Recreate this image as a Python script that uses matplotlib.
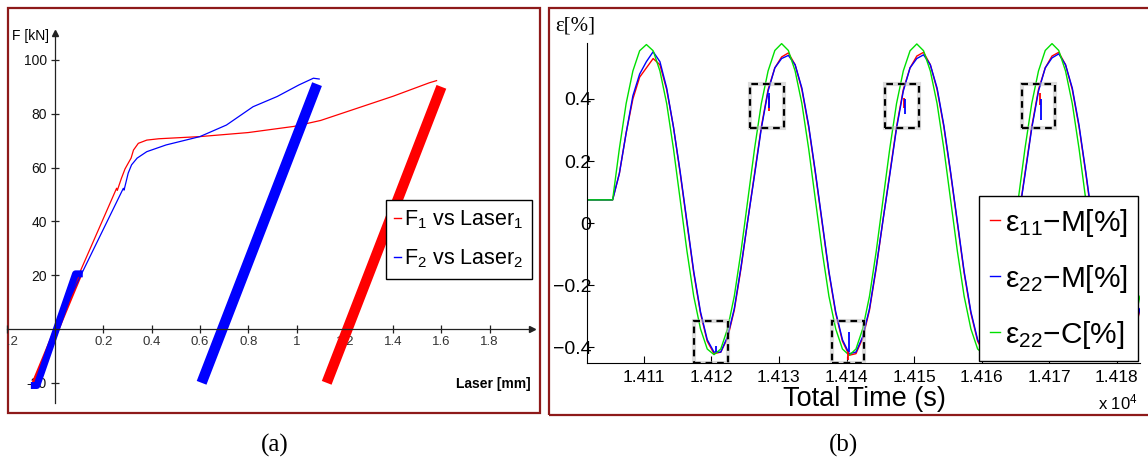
import numpy as np
import matplotlib
matplotlib.use("Agg")
import matplotlib.pyplot as plt
from matplotlib.patches import Rectangle
from matplotlib.lines import Line2D
from matplotlib.transforms import Bbox, TransformedBbox

plt.rcParams['font.family'] = ['Liberation Sans', 'DejaVu Sans']
plt.rcParams['mathtext.fontset'] = 'custom'
plt.rcParams['mathtext.rm'] = 'Liberation Sans'
plt.rcParams['mathtext.it'] = 'Liberation Sans'
plt.rcParams['mathtext.default'] = 'rm'

# ---- panel (a): force vs laser displacement ----
red_load_x = [0.0, 0.10, 0.255, 0.258, 0.275, 0.29, 0.303, 0.315, 0.325, 0.345, 0.38, 0.43,
              0.60, 0.80, 0.99, 1.10, 1.25, 1.40, 1.55, 1.58]
red_load_F = [0.0, 20.5, 52.3, 51.5, 56.0, 59.5, 61.6, 63.5, 66.5, 69.0, 70.2, 70.7,
              71.5, 73.0, 75.3, 77.5, 82.0, 86.5, 91.5, 92.3]
blue_load_x = [0.0, 0.11, 0.283, 0.286, 0.303, 0.317, 0.34, 0.38, 0.46, 0.60, 0.71, 0.82,
               0.92, 1.01, 1.07, 1.094]
blue_load_F = [0.0, 20.5, 52.3, 51.6, 57.9, 61.0, 63.5, 65.9, 68.4, 71.5, 75.8, 82.6,
               86.4, 90.7, 93.2, 92.9]
# cyclic bands (bottom -> top)
red_band_x = [1.125, 1.60]
red_band_F = [-20.0, 90.0]
blue_band_x = [0.607, 1.085]
blue_band_F = [-20.0, 91.0]
red_cyc_x = [-0.085, 0.10]
red_cyc_F = [-20.0, 20.0]
blue_cyc_x = [-0.10, -0.075, 0.085, 0.115]
blue_cyc_F = [-21.0, -21.0, 20.5, 20.5]

a_xticks = [-0.2, 0.2, 0.4, 0.6, 0.8, 1.0, 1.2, 1.4, 1.6, 1.8]
a_xlabels = ['-0.2', '0.2', '0.4', '0.6', '0.8', '1', '1.2', '1.4', '1.6', '1.8']
a_yticks = [-20, 20, 40, 60, 80, 100]
a_ylabels = ['-20', '20', '40', '60', '80', '100']

# ---- panel (b): strain vs time ----
t = np.arange(14101.4, 14184.0, 1.0)
eps11_M = [0.075, 0.075, 0.075, 0.075,
           0.075, 0.16, 0.29, 0.40, 0.47, 0.50, 0.53, 0.51, 0.43, 0.31, 0.16, 0.0, -0.16, -0.29, -0.38, -0.42, -0.415, -0.37, -0.28, -0.145,
           0.01, 0.16, 0.31, 0.43, 0.50, 0.535, 0.548, 0.51, 0.43, 0.31, 0.16, 0.0, -0.16, -0.29, -0.38, -0.425, -0.42, -0.37, -0.28, -0.145,
           0.01, 0.16, 0.31, 0.43, 0.50, 0.538, 0.55, 0.51, 0.43, 0.31, 0.16, 0.0, -0.16, -0.29, -0.38, -0.42, -0.415, -0.37, -0.28, -0.145,
           0.01, 0.16, 0.31, 0.43, 0.50, 0.538, 0.55, 0.51, 0.43, 0.31, 0.16, 0.0, -0.16, -0.29, -0.38, -0.42, -0.415, -0.37, -0.28]
eps22_M = [0.075, 0.075, 0.075, 0.075,
           0.075, 0.16, 0.29, 0.41, 0.48, 0.52, 0.552, 0.52, 0.435, 0.31, 0.165, 0.005, -0.155, -0.285, -0.375, -0.415, -0.415, -0.365, -0.275, -0.14,
           0.01, 0.155, 0.305, 0.425, 0.50, 0.53, 0.54, 0.51, 0.435, 0.315, 0.165, 0.005, -0.155, -0.285, -0.375, -0.42, -0.415, -0.365, -0.275, -0.14,
           0.01, 0.155, 0.305, 0.425, 0.50, 0.53, 0.542, 0.51, 0.435, 0.315, 0.165, 0.005, -0.155, -0.285, -0.375, -0.42, -0.415, -0.365, -0.275, -0.14,
           0.01, 0.155, 0.305, 0.425, 0.50, 0.532, 0.545, 0.51, 0.435, 0.315, 0.165, 0.005, -0.155, -0.285, -0.375, -0.42, -0.415, -0.365, -0.275]
eps22_C = [0.075, 0.075, 0.075, 0.075,
           0.075, 0.24, 0.385, 0.49, 0.555, 0.575, 0.555, 0.49, 0.385, 0.24, 0.075, -0.09, -0.235, -0.34, -0.405, -0.423, -0.405, -0.34, -0.235, -0.09,
           0.075, 0.24, 0.385, 0.49, 0.556, 0.578, 0.556, 0.49, 0.385, 0.24, 0.075, -0.09, -0.235, -0.34, -0.405, -0.425, -0.405, -0.34, -0.235, -0.09,
           0.075, 0.24, 0.385, 0.49, 0.555, 0.577, 0.555, 0.49, 0.385, 0.24, 0.075, -0.09, -0.235, -0.34, -0.405, -0.424, -0.405, -0.34, -0.235, -0.09,
           0.075, 0.24, 0.385, 0.49, 0.556, 0.578, 0.556, 0.49, 0.385, 0.24, 0.075, -0.09, -0.235, -0.34, -0.405, -0.425, -0.405, -0.34, -0.235]
# small jumps in the measured signals (inside the dashed boxes)
blue_jump_t = [14120.65, 14128.6, 14140.4, 14148.6, 14168.7]
blue_jump_lo = [-0.415, 0.372, -0.414, 0.35, 0.333]
blue_jump_hi = [-0.395, 0.42, -0.35, 0.40, 0.40]
red_jump_t = [14128.5, 14140.2, 14148.5, 14168.6]
red_jump_lo = [0.36, -0.44, 0.37, 0.38]
red_jump_hi = [0.41, -0.41, 0.404, 0.42]
# dashed highlight boxes
box_t0 = [14125.7, 14145.7, 14165.9, 14117.5, 14137.8]
box_t1 = [14130.7, 14150.7, 14170.8, 14122.4, 14142.6]
box_v0 = [0.307, 0.307, 0.307, -0.45, -0.45]
box_v1 = [0.449, 0.449, 0.449, -0.314, -0.314]

b_xticks = [14110, 14120, 14130, 14140, 14150, 14160, 14170, 14180]
b_xlabels = ['1.411', '1.412', '1.413', '1.414', '1.415', '1.416', '1.417', '1.418']
b_yticks = [-0.4, -0.2, 0.0, 0.2, 0.4]
b_ylabels = ['\u22120.4', '\u22120.2', '0', '0.2', '0.4']

RED, BLUE, GREEN = '#ff0000', '#0000ff', '#00e000'
FRAME = '#8e1a1a'

W, H = 1148, 462
fig = plt.figure(figsize=(W / 100, H / 100), dpi=100)


def fx(px):
    return px / W


def fy(py):
    return 1 - py / H


# frames
fig.add_artist(Rectangle((fx(8), fy(413)), (540 - 8) / W, (413 - 8) / H, transform=fig.transFigure,
                         fill=False, edgecolor=FRAME, lw=1.6, zorder=0))
fig.add_artist(Rectangle((fx(549), fy(415)), (1160 - 549) / W, (415 - 8) / H, transform=fig.transFigure,
                         fill=False, edgecolor=FRAME, lw=1.6, zorder=0))

# ================= panel (a) =================
xa0, xa1 = -0.2, 1.975
ya0, ya1 = -27.5, 110
axa = fig.add_axes([fx(55 + xa0 * 241.5), fy(403), (xa1 - xa0) * 241.5 / W, 370 / H])
axa.patch.set_alpha(0)
axa.set_xlim(xa0, xa1)
axa.set_ylim(ya0, ya1)

axa.plot(red_cyc_x, red_cyc_F, color=RED, lw=4, solid_capstyle='butt')
axa.plot(red_load_x, red_load_F, color=RED, lw=0.9)
axa.plot(blue_cyc_x, blue_cyc_F, color=BLUE, lw=5, solid_capstyle='butt')
axa.plot(blue_load_x, blue_load_F, color=BLUE, lw=0.9)
axa.plot(blue_band_x, blue_band_F, color=BLUE, lw=7.5, solid_capstyle='butt')
axa.plot(red_band_x, red_band_F, color=RED, lw=7.5, solid_capstyle='butt')

for s in ['top', 'right']:
    axa.spines[s].set_visible(False)
axa.spines['left'].set_position(('data', 0))
axa.spines['bottom'].set_position(('data', 0))
for s in ['left', 'bottom']:
    axa.spines[s].set_color('#222222')
    axa.spines[s].set_linewidth(0.9)
axa.plot(1, 0, '>', color='#222222', ms=4, transform=axa.get_yaxis_transform(), clip_on=False)
axa.plot(0, 1, '^', color='#222222', ms=4, transform=axa.get_xaxis_transform(), clip_on=False)

axa.set_xticks(a_xticks)
axa.set_xticklabels(a_xlabels)
axa.set_yticks(a_yticks)
axa.set_yticklabels(a_ylabels)
axa.tick_params(axis='both', direction='inout', length=6, width=0.9, color='#222222')
axa.tick_params(axis='x', labelsize=9.5, labelcolor='#333333', pad=2)
axa.tick_params(axis='y', labelsize=10, labelcolor='#111111', pad=3)
# the -0.2 label is cut by the panel frame, as in the figure
clipbox = TransformedBbox(Bbox.from_extents(fx(6.5), 0, 1, 1), fig.transFigure)
for lab in axa.get_xticklabels():
    lab.set_clip_on(True)
    lab.set_clip_box(clipbox)

fig.text(fx(12), fy(36), 'F [kN]', fontsize=10, va='center', ha='left')
fig.text(fx(531), fy(384), 'Laser [mm]', fontsize=10, weight='bold', va='center', ha='right')

hl_a = [Line2D([], [], color=RED, lw=1), Line2D([], [], color=BLUE, lw=1)]
leg_a = axa.legend(hl_a, ['F$_1$ vs Laser$_1$', 'F$_2$ vs Laser$_2$'], loc='upper right',
                   bbox_to_anchor=(fx(532), fy(200)), bbox_transform=fig.transFigure,
                   fontsize=15.5, handlelength=0.3, handletextpad=0.15, borderaxespad=0,
                   borderpad=0.4, labelspacing=0.75, fancybox=False, framealpha=1,
                   edgecolor='black')
leg_a.get_frame().set_linewidth(1.0)

fig.text(fx(275), fy(445), '(a)', fontsize=18, family='Liberation Serif', ha='center', va='center')

# ================= panel (b) =================
px_per_s = 6.76
xb0 = 14110 - (643.7 - 587) / px_per_s
xb1 = 14110 + (1140 - 643.7) / px_per_s
yb0, yb1 = -0.45, 0.58
axb = fig.add_axes([fx(587), fy(363), (1140 - 587) / W, (363 - 43) / H])
axb.patch.set_alpha(0)
axb.set_xlim(xb0, xb1)
axb.set_ylim(yb0, yb1)

axb.plot(t, eps11_M, color=RED, lw=1.0)
axb.plot(t, eps22_M, color=BLUE, lw=1.0)
axb.plot(t, eps22_C, color=GREEN, lw=1.0)
axb.vlines(red_jump_t, red_jump_lo, red_jump_hi, color=RED, lw=1.3)
axb.vlines(blue_jump_t, blue_jump_lo, blue_jump_hi, color=BLUE, lw=1.3)

for a0, a1, v0, v1 in zip(box_t0, box_t1, box_v0, box_v1):
    axb.add_patch(Rectangle((a0, v0), a1 - a0, v1 - v0, fill=False, edgecolor='#bbbbbb',
                            lw=3.0, alpha=0.5, zorder=4))
    axb.add_patch(Rectangle((a0, v0), a1 - a0, v1 - v0, fill=False, edgecolor='black',
                            lw=1.6, linestyle=(0, (3, 2.2)), zorder=5))

for s in ['top', 'right']:
    axb.spines[s].set_visible(False)
for s in ['left', 'bottom']:
    axb.spines[s].set_linewidth(0.8)
axb.set_xticks(b_xticks)
axb.set_xticklabels(b_xlabels)
axb.set_yticks(b_yticks)
axb.set_yticklabels(b_ylabels)
axb.tick_params(axis='both', direction='in', length=5, width=0.8)
axb.tick_params(axis='x', pad=5, labelsize=12.5)
axb.tick_params(axis='y', pad=-3, labelsize=14)

fig.text(fx(555), fy(26), '\u03b5[%]', fontsize=15, family='Liberation Serif', ha='left', va='center')
fig.text(fx(864), fy(399), 'Total Time (s)', fontsize=19.5, ha='center', va='center')
fig.text(fx(1138), fy(402), 'x 10$^4$', fontsize=12, ha='right', va='center')

hl_b = [Line2D([], [], color=RED, lw=1), Line2D([], [], color=BLUE, lw=1),
        Line2D([], [], color=GREEN, lw=1)]
leg_b = axb.legend(hl_b, ['\u03b5$_{11}$\u2212M[%]', '\u03b5$_{22}$\u2212M[%]', '\u03b5$_{22}$\u2212C[%]'],
                   loc='lower right', bbox_to_anchor=(fx(1138), fy(361)), bbox_transform=fig.transFigure,
                   fontsize=21.5, handlelength=0.35, handletextpad=0.15, borderaxespad=0,
                   borderpad=0.35, labelspacing=0.8, fancybox=False, framealpha=1,
                   edgecolor='black')
leg_b.get_frame().set_linewidth(1.0)
leg_b.set_zorder(10)

fig.text(fx(844), fy(445), '(b)', fontsize=18, family='Liberation Serif', ha='center', va='center')

fig.savefig('out.png', dpi=100)
